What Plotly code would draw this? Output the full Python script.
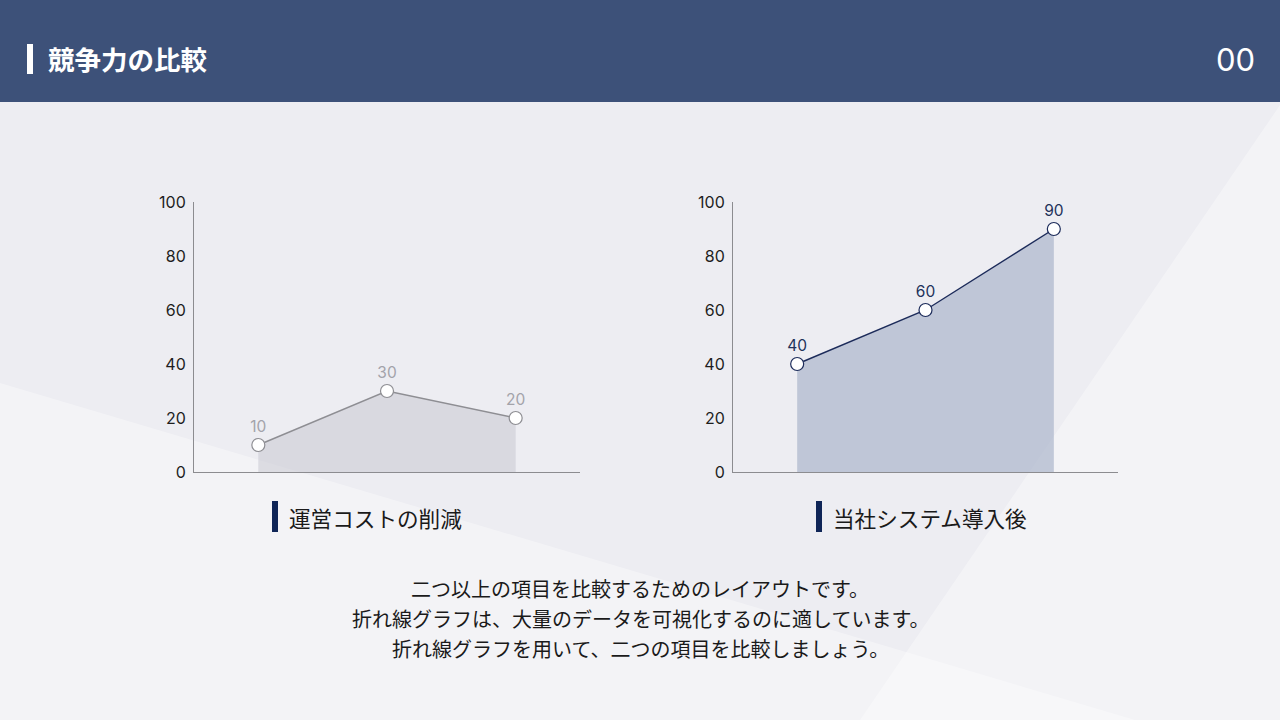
import plotly.graph_objects as go

# ----------------------------------------------------------------------
#  data
CATEGORIES = ["A", "B", "C"]
COST_VALUES = [10, 30, 20]          # 運営コストの削減
SYSTEM_VALUES = [40, 60, 90]        # 当社システム導入後
Y_TICKS = [0, 20, 40, 60, 80, 100]

TITLE = "競争力の比較"
PAGE_NO = "00"
LABEL_LEFT = "運営コストの削減"
LABEL_RIGHT = "当社システム導入後"
BODY_LINES = [
    "二つ以上の項目を比較するためのレイアウトです。",
    "折れ線グラフは、大量のデータを可視化するのに適しています。",
    "折れ線グラフを用いて、二つの項目を比較しましょう。",
]

W, H = 1280, 720
FONT = "Inter, 'Noto Sans CJK JP', sans-serif"
JP = "'Noto Sans CJK JP', sans-serif"
NAVY = "#1c2b5a"


def px(x):
    return x / W


def py(y):
    return 1 - y / H


fig = go.Figure()

fig.add_trace(go.Scatter(
    x=CATEGORIES, y=COST_VALUES, xaxis="x", yaxis="y",
    mode="lines+markers+text", fill="tozeroy",
    fillcolor="rgba(200,201,210,0.55)",
    line=dict(color="#8e8e93", width=1.4),
    marker=dict(size=13, color="white", line=dict(color="#8e8e93", width=1.2)),
    text=[str(v) for v in COST_VALUES], textposition="top center",
    textfont=dict(family=FONT, size=15.5, color="#a3a3aa"),
    cliponaxis=False, hoverinfo="skip",
))

fig.add_trace(go.Scatter(
    x=CATEGORIES, y=SYSTEM_VALUES, xaxis="x2", yaxis="y2",
    mode="lines+markers+text", fill="tozeroy",
    fillcolor="rgba(160,172,196,0.6)",
    line=dict(color=NAVY, width=1.4),
    marker=dict(size=13, color="white", line=dict(color=NAVY, width=1.2)),
    text=[str(v) for v in SYSTEM_VALUES], textposition="top center",
    textfont=dict(family=FONT, size=15.5, color="#22325a"),
    cliponaxis=False, hoverinfo="skip",
))

xax = dict(range=[-0.5, 2.5], showticklabels=False, showgrid=False,
           zeroline=False, showline=True, linecolor="#8c8c90", linewidth=1,
           ticks="", fixedrange=True, automargin=False)
yax = dict(range=[0, 100], tickvals=Y_TICKS, showgrid=False, zeroline=False,
           showline=True, linecolor="#8c8c90", linewidth=1, ticks="",
           ticklabelstandoff=4, automargin=False,
           tickfont=dict(family=FONT, size=16, color="#1e1e1e"),
           domain=[py(472), py(202)], fixedrange=True)

# ----------------------------------------------------------------------
#  background / decorations
shapes = [
    # lighter diagonal panes
    dict(type="path", xref="paper", yref="paper", layer="below",
         path=f"M 0 {py(383)} L {px(1135)} 0 L 0 0 Z",
         fillcolor="rgba(255,255,255,0.35)", line=dict(width=0)),
    dict(type="path", xref="paper", yref="paper", layer="below",
         path=f"M 1 {py(105)} L 1 0 L {px(860)} 0 Z",
         fillcolor="rgba(255,255,255,0.35)", line=dict(width=0)),
    # header
    dict(type="rect", xref="paper", yref="paper", layer="below",
         x0=0, x1=1, y0=py(102), y1=1, fillcolor="#3d5179", line=dict(width=0)),
    dict(type="rect", xref="paper", yref="paper",
         x0=px(27), x1=px(33), y0=py(74), y1=py(44),
         fillcolor="white", line=dict(width=0)),
    # caption bars
    dict(type="rect", xref="paper", yref="paper",
         x0=px(272), x1=px(278), y0=py(532), y1=py(501),
         fillcolor="#0f2557", line=dict(width=0)),
    dict(type="rect", xref="paper", yref="paper",
         x0=px(816), x1=px(822), y0=py(532), y1=py(501),
         fillcolor="#0f2557", line=dict(width=0)),
]

annotations = [
    dict(text=f"<b>{TITLE}</b>", x=px(46), y=py(58), xanchor="left", yanchor="middle",
         font=dict(family=JP, size=26.5, color="white")),
    dict(text=PAGE_NO, x=px(1257), y=py(59), xanchor="right", yanchor="middle",
         font=dict(family=FONT, size=31, color="white")),
    dict(text=LABEL_LEFT, x=px(287), y=py(517), xanchor="left", yanchor="middle",
         font=dict(family=JP, size=21.6, color="#1a1a1a")),
    dict(text=LABEL_RIGHT, x=px(831), y=py(517), xanchor="left", yanchor="middle",
         font=dict(family=JP, size=21.6, color="#1a1a1a")),
]
for i, line in enumerate(BODY_LINES):
    annotations.append(dict(
        text=line, x=0.5, y=py(588 + 30 * i), xanchor="center", yanchor="middle",
        font=dict(family=JP, size=20, color="#1a1a1a")))
for a in annotations:
    a.update(xref="paper", yref="paper", showarrow=False)

fig.update_layout(
    width=W, height=H,
    margin=dict(l=0, r=0, t=0, b=0, pad=0, autoexpand=False),
    paper_bgcolor="#ededf2",
    plot_bgcolor="rgba(0,0,0,0)",
    showlegend=False,
    xaxis=dict(xax, domain=[px(194), px(580)]),
    xaxis2=dict(xax, domain=[px(733), px(1118)], anchor="y2"),
    yaxis=dict(yax, anchor="x"),
    yaxis2=dict(yax, anchor="x2"),
    shapes=shapes,
    annotations=annotations,
)

# pin the figure to the top-left corner of the page
PIN = (
    "document.body.style.margin='0';"
    "document.body.style.overflow='hidden';"
    "var d=document.getElementById('{plot_id}');"
    "d.style.position='fixed';d.style.top='0';d.style.left='0';"
)
fig.write_html("out.html", config={"displayModeBar": False}, post_script=PIN)
